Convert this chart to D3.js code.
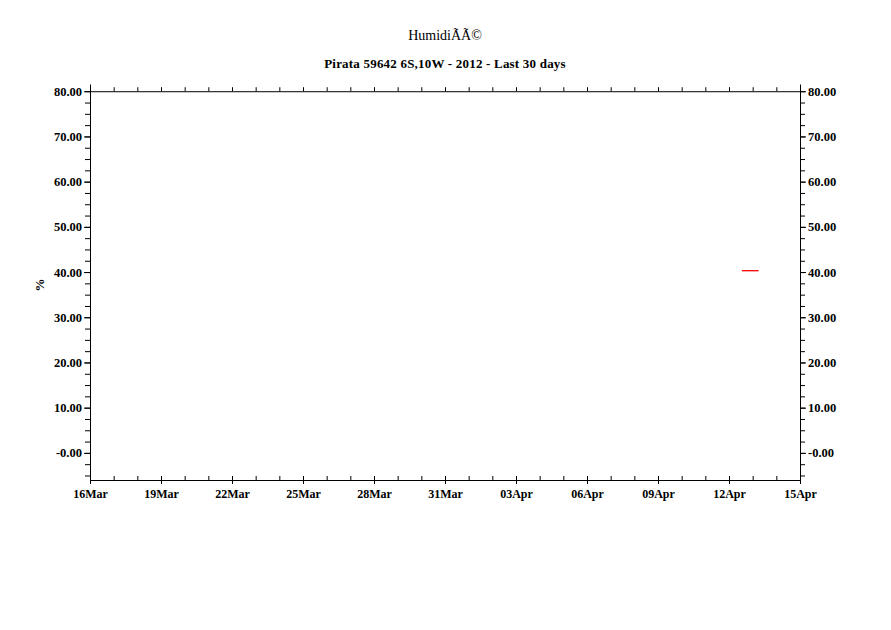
<!DOCTYPE html>
<html>
<head>
<meta charset="utf-8">
<script src="https://cdn.jsdelivr.net/npm/d3@7"></script>
<style>
  html, body { margin: 0; padding: 0; background: #fff; }
  svg text { font-family: "Liberation Serif", "DejaVu Serif", serif; font-weight: bold; fill: #000; }
</style>
</head>
<body>
<svg id="chart" width="891" height="630"></svg>
<script>
// ---- data ----
const titleText = "HumidiÃÃ©";
const subtitleText = "Pirata 59642 6S,10W - 2012 - Last 30 days";
const yLabel = "%";
const obsTimes = ["2012-04-12T13:00", "2012-04-13T06:00"];
const obsValues = [40.3, 40.3];
const xTickDates = ["2012-03-16", "2012-03-19", "2012-03-22", "2012-03-25", "2012-03-28", "2012-03-31",
                    "2012-04-03", "2012-04-06", "2012-04-09", "2012-04-12", "2012-04-15"];
const xTickLabels = ["16Mar", "19Mar", "22Mar", "25Mar", "28Mar", "31Mar", "03Apr", "06Apr", "09Apr", "12Apr", "15Apr"];
const yTickValues = [0, 10, 20, 30, 40, 50, 60, 70, 80];
const yTickLabels = ["-0.00", "10.00", "20.00", "30.00", "40.00", "50.00", "60.00", "70.00", "80.00"];
const xDomain = ["2012-03-16", "2012-04-15"];
const yDomain = [-6, 81.6];

(function () {
// ---- layout ----
const L = 90, R = 800, T = 84, B = 480;
const parse = d3.isoParse;
const svg = d3.select("#chart");

const x = d3.scaleTime().domain(xDomain.map(parse)).range([L, R]);
const y = d3.scaleLinear().domain(yDomain).range([B, T]);

// Title
svg.append("text").attr("x", (L + R) / 2).attr("y", 40).attr("text-anchor", "middle")
  .style("font-size", "14px").style("font-weight", "normal").text(titleText);
svg.append("text").attr("x", (L + R) / 2).attr("y", 68).attr("text-anchor", "middle")
  .style("font-size", "13px").style("letter-spacing", "0.2px").text(subtitleText);

const days = d3.timeDay.range(parse(xDomain[0]), d3.timeDay.offset(parse(xDomain[1]), 1));
const majorDates = xTickDates.map(parse);

// bottom axis minor
const bottomMinor = d3.axisBottom(x).tickValues(days).tickSize(-4).tickSizeOuter(0).tickFormat("");
const gB = svg.append("g").attr("transform", `translate(0,${B})`).call(bottomMinor);
gB.select(".domain").remove();
gB.selectAll("line").attr("stroke", "#000");
// bottom axis major
const bottomMaj = d3.axisBottom(x).tickValues(majorDates).tickSizeInner(4).tickSizeOuter(0)
  .tickFormat((d, i) => xTickLabels[i]);
const gBM = svg.append("g").attr("transform", `translate(0,${B})`).call(bottomMaj);
gBM.select(".domain").attr("stroke", "#000");
gBM.selectAll(".tick line").attr("y1", -4).attr("stroke", "#000");
gBM.selectAll("text").style("font-size", "12px").attr("dy", null).attr("y", 17.5);

// top line at 80
const topAxis = d3.axisTop(x).tickValues(days).tickSize(4).tickSizeOuter(0).tickFormat("");
const gT = svg.append("g").attr("transform", `translate(0,${y(80)})`).call(topAxis);
gT.selectAll("line, path").attr("stroke", "#000");

// left axis
const minorY = d3.range(-5, 81, 2.5);
const leftMinor = d3.axisLeft(y).tickValues(minorY).tickSize(5).tickSizeOuter(0).tickFormat("");
const gL = svg.append("g").attr("transform", `translate(${L},0)`).call(leftMinor);
gL.selectAll("line, path").attr("stroke", "#000");
const leftMaj = d3.axisLeft(y).tickValues(yTickValues).tickSize(6).tickSizeOuter(0)
  .tickFormat((d, i) => yTickLabels[i]).tickPadding(2);
const gLM = svg.append("g").attr("transform", `translate(${L},0)`).call(leftMaj);
gLM.select(".domain").remove();
gLM.selectAll("line").attr("stroke", "#000");
gLM.selectAll("text").style("font-size", "12.5px");

// right axis
const rightMinor = d3.axisRight(y).tickValues(minorY).tickSize(5).tickSizeOuter(0).tickFormat("");
const gR = svg.append("g").attr("transform", `translate(${R},0)`).call(rightMinor);
gR.selectAll("line, path").attr("stroke", "#000");
const rightMaj = d3.axisRight(y).tickValues(yTickValues).tickSize(6).tickSizeOuter(0)
  .tickFormat((d, i) => yTickLabels[i]).tickPadding(2);
const gRM = svg.append("g").attr("transform", `translate(${R},0)`).call(rightMaj);
gRM.select(".domain").remove();
gRM.selectAll("line").attr("stroke", "#000");
gRM.selectAll("text").style("font-size", "12.5px");

// y label
svg.append("text").attr("transform", "translate(44,285) rotate(-90)").attr("text-anchor", "middle")
  .style("font-size", "13px").text(yLabel);

// data line
const line = d3.line().x((d, i) => x(parse(obsTimes[i]))).y(d => y(d));
svg.append("path").datum(obsValues).attr("d", line).attr("fill", "none")
  .attr("stroke", "#ff0000").attr("stroke-width", 1.3);
})();
</script>
</body>
</html>
